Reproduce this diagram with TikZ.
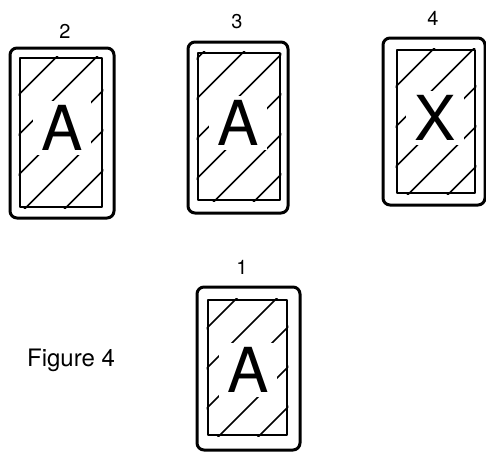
\documentclass[tikz,border=0pt]{standalone}
\usepackage{fontspec}
\setmainfont{TeX Gyre Heros}
\usepackage{tikz}

\tikzset{
  outer/.style={draw, line width=3pt, rounded corners=7pt, inner sep=0pt},
  inner/.style={draw, line width=2.6pt, inner sep=0pt},
  hatch/.style={line width=1.7pt},
  letter/.style={fill=white, inner xsep=8pt, inner ysep=5pt, text height=44pt,
    text depth=0pt, font=\fontsize{62}{62}\selectfont},
  num/.style={font=\fontsize{20}{20}\selectfont},
}

\begin{document}
\begin{tikzpicture}[x=1pt, y=-1pt, line cap=round, line join=round]
\useasboundingbox (0,0) rectangle (486,455);

% card 2
\node[outer, minimum width=104pt, minimum height=170pt] (o2) at (62,133) {};
\node[inner, minimum width=82pt, minimum height=149pt] (i2) at (61,132.5) {};
\begin{scope}
\clip (i2.south west) rectangle (i2.north east);
\foreach \o in {-120,-80,...,120}
  \draw[hatch, shift={(i2.center)}] (\o-100,100) -- (\o+100,-100);
\end{scope}
\node[letter] (a2) at (62,128) {A};
\node[num] (n2) at (65,31) {2};

% card 3
\node[outer, minimum width=100pt, minimum height=171pt] (o3) at (238,127.5) {};
\node[inner, minimum width=82pt, minimum height=147pt] (i3) at (239,126.5) {};
\begin{scope}
\clip (i3.south west) rectangle (i3.north east);
\foreach \o in {-110,-70,...,130}
  \draw[hatch, shift={(i3.center)}] (\o-100,100) -- (\o+100,-100);
\end{scope}
\node[letter] (a3) at (238,123) {A};
\node[num] (n3) at (237,22) {3};

% card 4
\node[outer, minimum width=102pt, minimum height=167pt] (o4) at (434,121.5) {};
\node[inner, minimum width=78pt, minimum height=143pt] (i4) at (436,121.5) {};
\begin{scope}
\clip (i4.south west) rectangle (i4.north east);
\foreach \o in {-115,-75,...,125}
  \draw[hatch, shift={(i4.center)}] (\o-100,100) -- (\o+100,-100);
\end{scope}
\node[letter] (x4) at (435,118) {X};
\node[num] (n4) at (433,18) {4};

% card 1
\node[outer, minimum width=103pt, minimum height=163pt] (o1) at (248.5,368.5) {};
\node[inner, minimum width=79pt, minimum height=135pt] (i1) at (247.5,367.5) {};
\begin{scope}
\clip (i1.south west) rectangle (i1.north east);
\foreach \o in {-120,-80,...,120}
  \draw[hatch, shift={(i1.center)}] (\o-100,100) -- (\o+100,-100);
\end{scope}
\node[letter] (a1) at (248,370) {A};
\node[num] (n1) at (242,267) {1};

\node[font=\fontsize{24}{24}\selectfont] (fig) at (71,360) {Figure 4};
\end{tikzpicture}
\end{document}
